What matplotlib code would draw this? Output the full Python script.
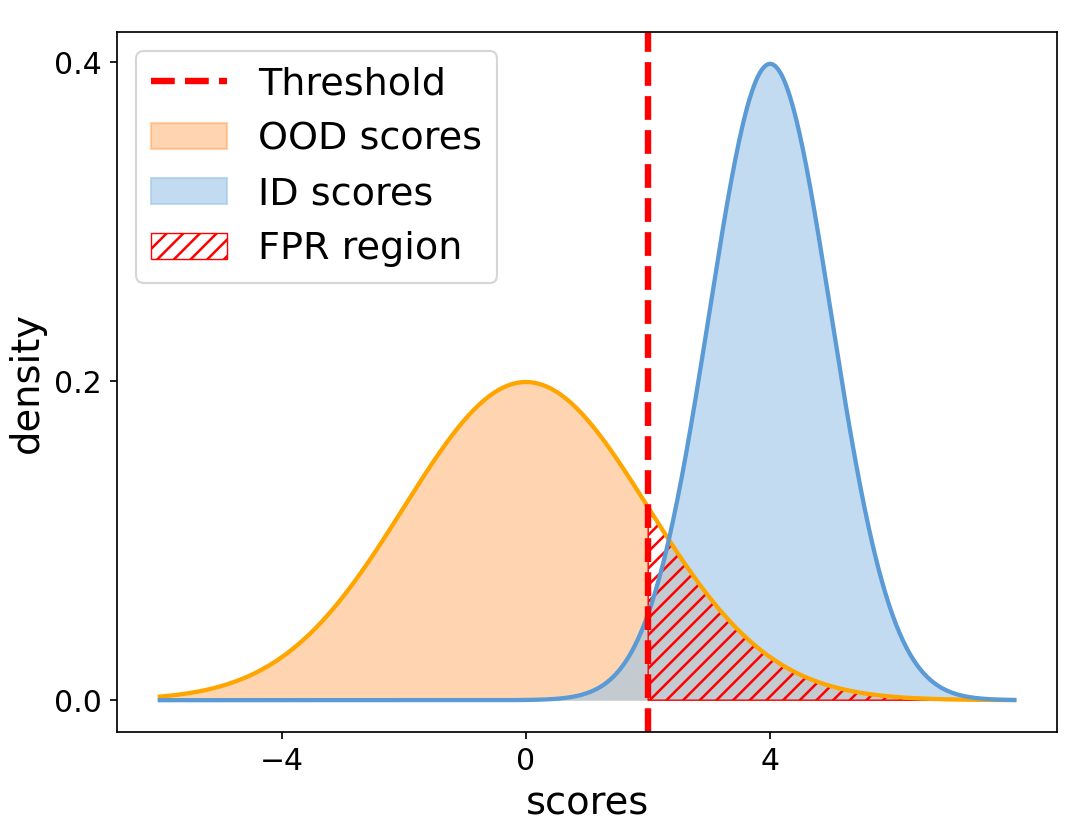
import numpy as np
import matplotlib
matplotlib.use("Agg")
import matplotlib.pyplot as plt
from matplotlib.lines import Line2D
from matplotlib.patches import Patch

# Score distributions (normal densities)
ood_mean, ood_std = 0.0, 2.0
id_mean, id_std = 4.0, 1.0
threshold = 2.0
score_min, score_max = -6.0, 8.0

x_ticks = [-4, 0, 4]
y_ticks = [0.0, 0.2, 0.4]

legend_labels = ["Threshold", "OOD scores", "ID scores", "FPR region"]


def normal_pdf(x, mu, sigma):
    return np.exp(-0.5 * ((x - mu) / sigma) ** 2) / (sigma * np.sqrt(2 * np.pi))


x = np.linspace(score_min, score_max, 1000)
ood = normal_pdf(x, ood_mean, ood_std)
idd = normal_pdf(x, id_mean, id_std)

# everything is scaled up from a ~154 dpi original onto a 100 dpi canvas
S = 1.54
plt.rcParams["hatch.linewidth"] = 1.8
plt.rcParams["axes.linewidth"] = 0.8 * S

ood_line = "orange"
ood_fill = "C1"
id_line = "#5b9bd5"
id_fill = "#9cc4e6"

fig, ax = plt.subplots(figsize=(10.79, 8.22), dpi=100)
fig.subplots_adjust(left=0.1085, right=0.9796, top=0.961, bottom=0.1095)

# OOD area: full curve left of threshold, only the overlap part right of it
ood_upper = np.where(x < threshold, ood, np.minimum(ood, idd))
ax.fill_between(x, ood_upper, color=ood_fill, alpha=0.32, linewidth=0)
ax.fill_between(x, idd, color=id_fill, alpha=0.6, linewidth=0)
ax.fill_between(x, ood, where=x >= threshold, facecolor="none",
                edgecolor="red", hatch="//", linewidth=1.0)

ax.plot(x, ood, color=ood_line, lw=2 * S)
ax.plot(x, idd, color=id_line, lw=2 * S)
ax.axvline(threshold, color="red", ls="--", lw=3 * S)

ax.set_xticks(x_ticks)
ax.set_yticks(y_ticks)
ax.tick_params(labelsize=14 * S, length=3.5 * S, width=0.8 * S, pad=3.5 * S)
ax.set_xlabel("scores", fontsize=18 * S, labelpad=4 * S)
ax.set_ylabel("density", fontsize=18 * S, labelpad=4 * S)

handles = [
    Line2D([], [], color="red", ls="--", lw=3 * S),
    Patch(facecolor=ood_fill, edgecolor=ood_fill, alpha=0.32, lw=1.0 * S),
    Patch(facecolor=id_fill, edgecolor=id_fill, alpha=0.6, lw=1.0 * S),
    Patch(facecolor="white", edgecolor="red", hatch="//", lw=1.0),
]
leg = ax.legend(handles, legend_labels, loc="upper left", fontsize=17.8 * S)
leg.get_frame().set_linewidth(1.0 * S)

fig.savefig("out.png", dpi=100)
